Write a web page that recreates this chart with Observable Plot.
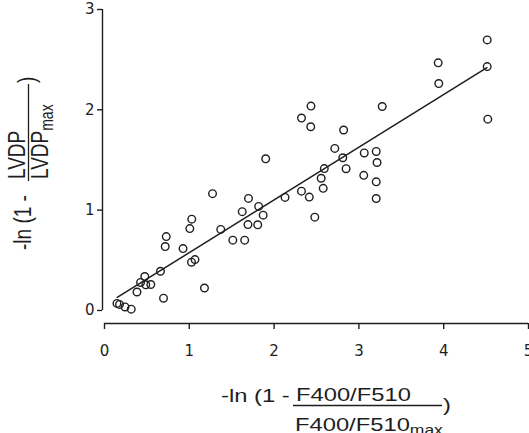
<!DOCTYPE html>
<html>
<head>
<meta charset="utf-8">
<script src="https://cdn.jsdelivr.net/npm/d3@7"></script>
<script src="https://cdn.jsdelivr.net/npm/@observablehq/plot@0.6"></script>
<style>
  html, body { margin: 0; padding: 0; background: #fff; }
  #chart { width: 529px; height: 433px; overflow: hidden; }
</style>
</head>
<body>
<div id="chart"></div>
<script>
// x: -ln(1 - F400/F510 / F400/F510max), y: -ln(1 - LVDP / LVDPmax)
const xValues = [0.147, 0.177, 0.242, 0.315, 0.383, 0.425, 0.475, 0.487, 0.546, 0.660,
  0.696, 0.728, 0.716, 0.926, 1.026, 1.067, 1.179, 1.006, 1.029, 1.274,
  1.371, 1.513, 1.653, 1.624, 1.698, 1.692, 1.807, 1.818, 1.871, 1.901,
  2.129, 2.323, 2.415, 2.480, 2.435, 2.323, 2.432, 2.820, 2.716, 2.810,
  2.849, 3.063, 3.204, 3.214, 3.057, 3.204, 3.204, 2.592, 2.555, 2.579,
  3.275, 3.935, 3.942, 4.513, 4.513, 4.520];
const yValues = [0.070, 0.060, 0.035, 0.013, 0.184, 0.279, 0.338, 0.256, 0.259, 0.391,
  0.122, 0.736, 0.637, 0.617, 0.481, 0.507, 0.224, 0.816, 0.910, 1.164,
  0.808, 0.701, 0.701, 0.985, 1.117, 0.856, 0.854, 1.037, 0.950, 1.512,
  1.127, 1.189, 1.130, 0.930, 2.037, 1.918, 1.831, 1.799, 1.615, 1.522,
  1.413, 1.570, 1.585, 1.475, 1.347, 1.282, 1.116, 1.414, 1.318, 1.217,
  2.033, 2.468, 2.262, 2.697, 2.431, 1.907];
// fitted regression line end points
const fitX = [0.15, 4.51];
const fitY = [0.13, 2.42];
const xTicks = [0, 1, 2, 3, 4, 5];
const yTicks = [0, 1, 2, 3];

const points = xValues.map((x, i) => ({x, y: yValues[i]}));
const fit = fitX.map((x, i) => ({x, y: fitY[i]}));

const ink = "#1e1e1e";
const font = "'Liberation Sans', Arial, Helvetica, sans-serif";
const tickFont = "'DejaVu Sans', 'Liberation Sans', sans-serif";

const chart = Plot.plot({
  width: 529,
  height: 433,
  marginLeft: 102,
  marginRight: 1,
  marginTop: 9,
  marginBottom: 110,
  style: {fontFamily: tickFont, fontSize: "15px", color: ink, background: "#fff", overflow: "hidden"},
  x: {domain: [-0.0236, 5]},
  y: {domain: [-0.13, 3]},
  marks: [
    Plot.ruleX([-0.0236], {y1: 0, y2: 3, stroke: ink, strokeWidth: 1.4}),
    Plot.ruleY([-0.13], {x1: 0, x2: 5, stroke: ink, strokeWidth: 1.4}),
    Plot.axisY({ticks: yTicks, tickFormat: d3.format("d"), tickSize: 5, tickPadding: 3, label: null, stroke: ink, strokeWidth: 1.4}),
    Plot.axisX({ticks: xTicks, tickFormat: d3.format("d"), tickSize: 6, tickPadding: 16, label: null, stroke: ink, strokeWidth: 1.4}),
    Plot.line(fit, {x: "x", y: "y", stroke: ink, strokeWidth: 1.5}),
    Plot.dot(points, {x: "x", y: "y", r: 3.8, stroke: ink, strokeWidth: 1.4, fill: "none"})
  ]
});

document.getElementById("chart").appendChild(chart);

const svg = d3.select(chart);
const titleFont = 19;

// x-axis title
const gx = svg.append("g").attr("fill", ink).attr("font-family", font)
  .attr("font-size", titleFont).attr("text-anchor", "start");
gx.append("text").attr("transform", "translate(221,402) scale(1.25,1)").text("-ln (1 -");
gx.append("text").attr("transform", "translate(296,401) scale(1.25,1)").text("F400/F510");
gx.append("line").attr("x1", 293).attr("x2", 442).attr("y1", 405.5).attr("y2", 405.5)
  .attr("stroke", ink).attr("stroke-width", 1.3);
const den = gx.append("text").attr("transform", "translate(295,431) scale(1.25,1)");
den.append("tspan").text("F400/F510");
den.append("tspan").attr("font-size", 14).attr("dy", 4).text("max");
gx.append("text").attr("transform", "translate(443,411) scale(1.25,1)").text(")");

// y-axis title (rotated)
const gy = svg.append("g").attr("transform", "rotate(-90)").attr("fill", ink)
  .attr("font-family", font).attr("font-size", titleFont).attr("text-anchor", "start");
gy.append("text").attr("transform", "translate(-250,31) scale(1,1.25)").text("-ln (1 -");
gy.append("text").attr("transform", "translate(-179,25) scale(1,1.25)").text("LVDP");
gy.append("line").attr("x1", -181).attr("x2", -84).attr("y1", 28.5).attr("y2", 28.5)
  .attr("stroke", ink).attr("stroke-width", 1.3);
const deny = gy.append("text").attr("transform", "translate(-179,48) scale(1,1.25)");
deny.append("tspan").text("LVDP");
deny.append("tspan").attr("font-size", 14).attr("dy", 4).text("max");
gy.append("text").attr("transform", "translate(-83,35) scale(1,1.25)").text(")");
</script>
</body>
</html>
